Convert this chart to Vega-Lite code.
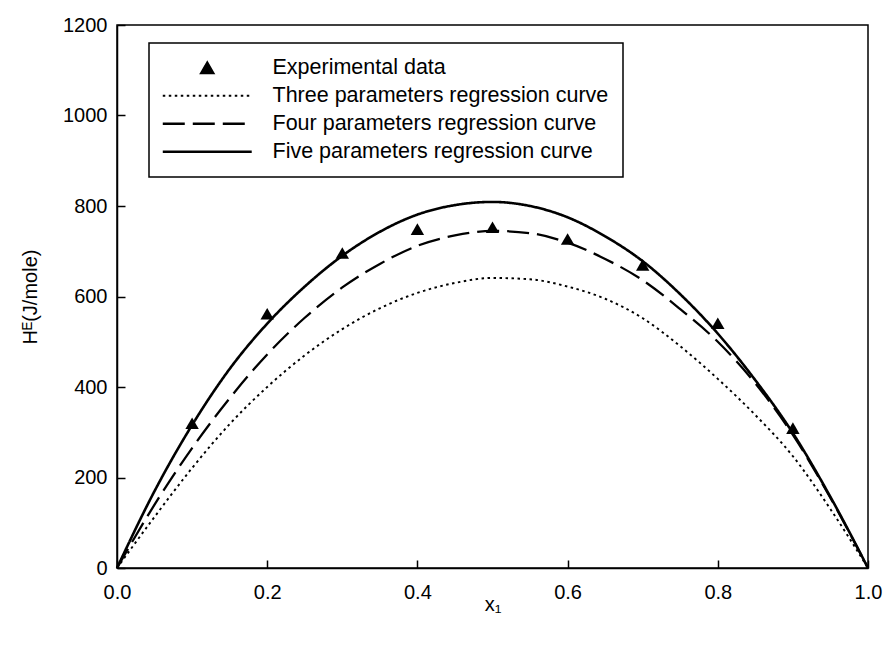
{
  "$schema": "https://vega.github.io/schema/vega-lite/v6.json",
  "width": 751,
  "height": 543,
  "autosize": "none",
  "padding": {"left": 117, "top": 25, "right": 17, "bottom": 80},
  "background": "white",
  "config": {
    "font": "Liberation Sans",
    "view": {"stroke": "black", "strokeWidth": 1.5},
    "axis": {
      "grid": false,
      "labelFlush": false,
      "domainColor": "black",
      "domainWidth": 1.5,
      "tickColor": "black",
      "tickWidth": 1.5,
      "tickSize": -8,
      "labelFont": "Liberation Sans",
      "labelFontSize": 20,
      "labelColor": "black",
      "titleFont": "Liberation Sans, DejaVu Sans",
      "titleFontSize": 20,
      "titleFontWeight": "normal",
      "titleColor": "black"
    },
    "legend": {
      "title": null,
      "orient": "none",
      "legendX": 32,
      "legendY": 18,
      "strokeColor": "black",
      "fillColor": "white",
      "padding": 14,
      "labelFont": "Liberation Sans",
      "labelFontSize": 21.5,
      "labelColor": "black",
      "labelLimit": 600,
      "labelOffset": 54.5,
      "symbolOffset": 33.5,
      "rowPadding": 5,
      "symbolSize": 180,
      "symbolStrokeColor": "black",
      "symbolFillColor": "black"
    }
  },
  "data": {
    "values": [
      {"x": 0.1, "y": 320, "series": "Experimental data"},
      {"x": 0.2, "y": 562, "series": "Experimental data"},
      {"x": 0.3, "y": 696, "series": "Experimental data"},
      {"x": 0.4, "y": 749, "series": "Experimental data"},
      {"x": 0.5, "y": 753, "series": "Experimental data"},
      {"x": 0.6, "y": 727, "series": "Experimental data"},
      {"x": 0.7, "y": 670, "series": "Experimental data"},
      {"x": 0.8, "y": 541, "series": "Experimental data"},
      {"x": 0.9, "y": 309, "series": "Experimental data"},

      {"x": 0.0, "y": 0, "series": "Three parameters regression curve"},
      {"x": 0.05, "y": 113, "series": "Three parameters regression curve"},
      {"x": 0.1, "y": 221, "series": "Three parameters regression curve"},
      {"x": 0.15, "y": 318, "series": "Three parameters regression curve"},
      {"x": 0.2, "y": 400, "series": "Three parameters regression curve"},
      {"x": 0.25, "y": 470, "series": "Three parameters regression curve"},
      {"x": 0.3, "y": 528, "series": "Three parameters regression curve"},
      {"x": 0.35, "y": 574, "series": "Three parameters regression curve"},
      {"x": 0.4, "y": 608, "series": "Three parameters regression curve"},
      {"x": 0.45, "y": 630, "series": "Three parameters regression curve"},
      {"x": 0.5, "y": 641, "series": "Three parameters regression curve"},
      {"x": 0.55, "y": 638, "series": "Three parameters regression curve"},
      {"x": 0.6, "y": 622, "series": "Three parameters regression curve"},
      {"x": 0.65, "y": 595, "series": "Three parameters regression curve"},
      {"x": 0.7, "y": 552, "series": "Three parameters regression curve"},
      {"x": 0.75, "y": 490, "series": "Three parameters regression curve"},
      {"x": 0.8, "y": 418, "series": "Three parameters regression curve"},
      {"x": 0.85, "y": 338, "series": "Three parameters regression curve"},
      {"x": 0.9, "y": 247, "series": "Three parameters regression curve"},
      {"x": 0.95, "y": 130, "series": "Three parameters regression curve"},
      {"x": 1.0, "y": 0, "series": "Three parameters regression curve"},

      {"x": 0.0, "y": 0, "series": "Four parameters regression curve"},
      {"x": 0.05, "y": 140, "series": "Four parameters regression curve"},
      {"x": 0.1, "y": 265, "series": "Four parameters regression curve"},
      {"x": 0.15, "y": 375, "series": "Four parameters regression curve"},
      {"x": 0.2, "y": 472, "series": "Four parameters regression curve"},
      {"x": 0.25, "y": 553, "series": "Four parameters regression curve"},
      {"x": 0.3, "y": 620, "series": "Four parameters regression curve"},
      {"x": 0.35, "y": 672, "series": "Four parameters regression curve"},
      {"x": 0.4, "y": 712, "series": "Four parameters regression curve"},
      {"x": 0.45, "y": 735, "series": "Four parameters regression curve"},
      {"x": 0.5, "y": 745, "series": "Four parameters regression curve"},
      {"x": 0.55, "y": 740, "series": "Four parameters regression curve"},
      {"x": 0.6, "y": 719, "series": "Four parameters regression curve"},
      {"x": 0.65, "y": 683, "series": "Four parameters regression curve"},
      {"x": 0.7, "y": 636, "series": "Four parameters regression curve"},
      {"x": 0.75, "y": 572, "series": "Four parameters regression curve"},
      {"x": 0.8, "y": 500, "series": "Four parameters regression curve"},
      {"x": 0.85, "y": 408, "series": "Four parameters regression curve"},
      {"x": 0.9, "y": 294, "series": "Four parameters regression curve"},
      {"x": 0.95, "y": 155, "series": "Four parameters regression curve"},
      {"x": 1.0, "y": 0, "series": "Four parameters regression curve"},

      {"x": 0.0, "y": 0, "series": "Five parameters regression curve"},
      {"x": 0.05, "y": 170, "series": "Five parameters regression curve"},
      {"x": 0.1, "y": 316, "series": "Five parameters regression curve"},
      {"x": 0.15, "y": 440, "series": "Five parameters regression curve"},
      {"x": 0.2, "y": 540, "series": "Five parameters regression curve"},
      {"x": 0.25, "y": 622, "series": "Five parameters regression curve"},
      {"x": 0.3, "y": 690, "series": "Five parameters regression curve"},
      {"x": 0.35, "y": 743, "series": "Five parameters regression curve"},
      {"x": 0.4, "y": 781, "series": "Five parameters regression curve"},
      {"x": 0.45, "y": 802, "series": "Five parameters regression curve"},
      {"x": 0.5, "y": 809, "series": "Five parameters regression curve"},
      {"x": 0.55, "y": 800, "series": "Five parameters regression curve"},
      {"x": 0.6, "y": 775, "series": "Five parameters regression curve"},
      {"x": 0.65, "y": 733, "series": "Five parameters regression curve"},
      {"x": 0.7, "y": 678, "series": "Five parameters regression curve"},
      {"x": 0.75, "y": 605, "series": "Five parameters regression curve"},
      {"x": 0.8, "y": 518, "series": "Five parameters regression curve"},
      {"x": 0.85, "y": 415, "series": "Five parameters regression curve"},
      {"x": 0.9, "y": 298, "series": "Five parameters regression curve"},
      {"x": 0.95, "y": 157, "series": "Five parameters regression curve"},
      {"x": 1.0, "y": 0, "series": "Five parameters regression curve"}
    ]
  },
  "layer": [
    {
      "transform": [{"filter": "datum.series !== 'Experimental data'"}],
      "mark": {"type": "line", "color": "black", "interpolate": "monotone"},
      "encoding": {
        "x": {"field": "x", "type": "quantitative", "scale": {"domain": [0, 1], "nice": false},
              "axis": {"values": [0, 0.2, 0.4, 0.6, 0.8, 1.0], "format": ".1f", "title": "x₁", "labelPadding": 22, "titlePadding": -8}},
        "y": {"field": "y", "type": "quantitative", "scale": {"domain": [0, 1200], "nice": false},
              "axis": {"values": [0, 200, 400, 600, 800, 1000, 1200], "format": "d", "title": "Hᴱ(J/mole)", "labelPadding": 18, "titlePadding": 22}},
        "detail": {"field": "series"},
        "strokeWidth": {
          "field": "series", "type": "nominal",
          "scale": {
            "domain": ["Experimental data", "Three parameters regression curve", "Four parameters regression curve", "Five parameters regression curve"],
            "range": [1.6, 2.6, 1.6, 1.6]
          },
          "legend": null
        },
        "strokeDash": {
          "field": "series", "type": "nominal",
          "scale": {
            "domain": ["Experimental data", "Three parameters regression curve", "Four parameters regression curve", "Five parameters regression curve"],
            "range": [[1, 0], [2.5, 3.5], [22, 8], [1, 0]]
          },
          "legend": {
            "encode": {
              "legend": {"update": {"strokeWidth": {"value": 1.5}}},
              "symbols": {
                "update": {
                  "fill": {"signal": "datum.value === 'Experimental data' ? 'black' : 'transparent'"},
                  "stroke": {"value": "black"},
                  "strokeWidth": {"signal": "datum.value === 'Three parameters regression curve' ? 2.6 : 1.6"}
                }
              }
            }
          }
        }
      }
    },
    {
      "transform": [{"filter": "datum.series === 'Experimental data'"}],
      "mark": {"type": "point", "filled": true, "color": "black", "size": 180, "opacity": 1},
      "encoding": {
        "x": {"field": "x", "type": "quantitative"},
        "y": {"field": "y", "type": "quantitative"},
        "shape": {
          "field": "series", "type": "nominal",
          "scale": {
            "domain": ["Experimental data", "Three parameters regression curve", "Four parameters regression curve", "Five parameters regression curve"],
            "range": ["triangle-up", "M-6.63,0L6.63,0", "M-6.63,0L6.63,0", "M-6.63,0L6.63,0"]
          },
          "legend": {
            "encode": {
              "legend": {"update": {"strokeWidth": {"value": 1.5}}},
              "symbols": {
                "update": {
                  "fill": {"signal": "datum.value === 'Experimental data' ? 'black' : 'transparent'"},
                  "stroke": {"value": "black"},
                  "strokeWidth": {"signal": "datum.value === 'Three parameters regression curve' ? 2.6 : 1.6"}
                }
              }
            }
          }
        }
      }
    }
  ]
}
